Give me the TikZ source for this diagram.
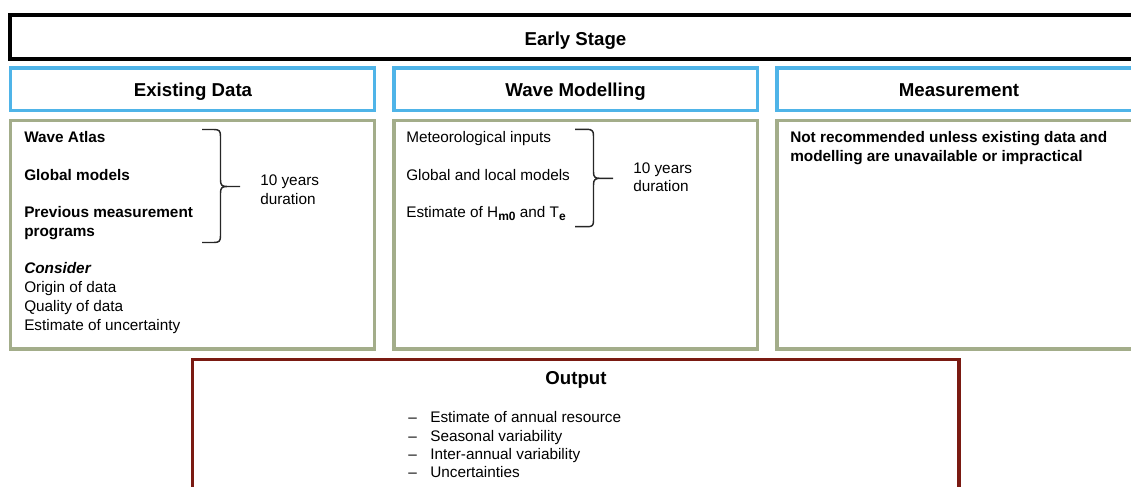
\documentclass[tikz,border=0pt]{standalone}
\usepackage{fontspec}
\setmainfont{Liberation Sans}
\definecolor{boxblue}{HTML}{4FB4E8}
\definecolor{boxgreen}{HTML}{A3AD8A}
\definecolor{boxred}{HTML}{7A1A12}
\begin{document}
\begin{tikzpicture}[x=0.75pt,y=-0.75pt,
  box/.style={draw, line width=2.6pt, inner sep=0pt},
  blackbox/.style={box, draw=black, line width=3pt},
  bluebox/.style={box, draw=boxblue},
  greenbox/.style={box, draw=boxgreen},
  redbox/.style={box, draw=boxred},
  head/.style={font=\fontsize{14}{16}\selectfont\bfseries, anchor=base, inner sep=0pt},
  txt/.style={font=\fontsize{11.5}{14}\selectfont, anchor=base west, inner sep=0pt},
  btxt/.style={txt, font=\fontsize{11.5}{14}\selectfont\bfseries},
  bracestyle/.style={draw=black!85, line width=1.1pt}]
\useasboundingbox (0,0) rectangle (1131,486);
\clip (0,0) rectangle (1131,486);

% frames
\node[blackbox, minimum width=1130.7*0.75pt, minimum height=43.4*0.75pt] (early) at (575.7,37) {};
\node[bluebox, minimum width=364*0.75pt, minimum height=42.3*0.75pt] (exhead) at (192.25,89.2) {};
\node[bluebox, minimum width=363.3*0.75pt, minimum height=42.3*0.75pt] (wmhead) at (575.85,89.2) {};
\node[bluebox, minimum width=364.5*0.75pt, minimum height=42.3*0.75pt] (mshead) at (959.25,89.2) {};
\node[greenbox, minimum width=364*0.75pt, minimum height=228.7*0.75pt] (exbody) at (192.25,234.7) {};
\node[greenbox, minimum width=363.3*0.75pt, minimum height=228.7*0.75pt] (wmbody) at (575.85,234.7) {};
\node[greenbox, minimum width=364.5*0.75pt, minimum height=228.7*0.75pt] (msbody) at (959.25,234.7) {};
\node[redbox, minimum width=766.7*0.75pt, minimum height=150*0.75pt] (outbox) at (575.65,434.5) {};

% headings
\node[head] (earlyt) at (575.5,45) {Early Stage};
\node[head] (ext) at (193,96.5) {Existing Data};
\node[head] (wmt) at (575.5,96.5) {Wave Modelling};
\node[head] (mst) at (959,96.5) {Measurement};
\node[head] (outt) at (576,384.5) {Output};

% existing data
\node[btxt] (e1) at (24,142.5) {Wave Atlas};
\node[btxt] (e2) at (24,180.5) {Global models};
\node[btxt] (e3) at (24,217.5) {Previous measurement};
\node[btxt] (e4) at (24,236.5) {programs};
\node[txt, font=\fontsize{11.5}{14}\selectfont\bfseries\itshape] (e5) at (24,273.5) {Consider};
\node[txt] (e6) at (24,292.5) {Origin of data};
\node[txt] (e7) at (24,311.5) {Quality of data};
\node[txt] (e8) at (24,330) {Estimate of uncertainty};
\node[txt] (e9) at (260,185.5) {10 years};
\node[txt] (e10) at (260,204) {duration};
\path[bracestyle] (202,129.5) -- (214,129.5) .. controls (219,129.5) and (220.5,131) .. (220.5,136) -- (220.5,180) .. controls (220.5,185) and (222,186.5) .. (227,186.5) -- (240,186.5)
  (227,186.5) .. controls (222,186.5) and (220.5,188) .. (220.5,193) -- (220.5,236) .. controls (220.5,241) and (219,242.5) .. (214,242.5) -- (202,242.5);

% wave modelling
\node[txt] (w1) at (406,142) {Meteorological inputs};
\node[txt] (w2) at (406,180.5) {Global and local models};
\node[txt] (w3) at (406,217.3) {Estimate of H\raisebox{-0.45ex}{\fontsize{9}{10}\selectfont\bfseries m0} and T\raisebox{-0.45ex}{\fontsize{9}{10}\selectfont\bfseries e}};
\node[txt] (w4) at (633,173) {10 years};
\node[txt] (w5) at (633,191.5) {duration};
\path[bracestyle] (575,129.3) -- (587,129.3) .. controls (592,129.3) and (593.5,130.8) .. (593.5,135.8) -- (593.5,172) .. controls (593.5,177) and (595,178.3) .. (600,178.3) -- (613,178.3)
  (600,178.3) .. controls (595,178.3) and (593.5,179.8) .. (593.5,184.8) -- (593.5,220.7) .. controls (593.5,225.7) and (592,226.7) .. (587,226.7) -- (575,226.7);

% measurement
\node[btxt] (m1) at (790,142.5) {Not recommended unless existing data and};
\node[btxt] (m2) at (790,161.5) {modelling are unavailable or impractical};

% output
\node[txt] (d1) at (408,422.5) {--};
\node[txt] (o1) at (430,422.5) {Estimate of annual resource};
\node[txt] (d2) at (408,441.5) {--};
\node[txt] (o2) at (430,441.5) {Seasonal variability};
\node[txt] (d3) at (408,459.5) {--};
\node[txt] (o3) at (430,459.5) {Inter-annual variability};
\node[txt] (d4) at (408,477.5) {--};
\node[txt] (o4) at (430,477.5) {Uncertainties};
\end{tikzpicture}
\end{document}
